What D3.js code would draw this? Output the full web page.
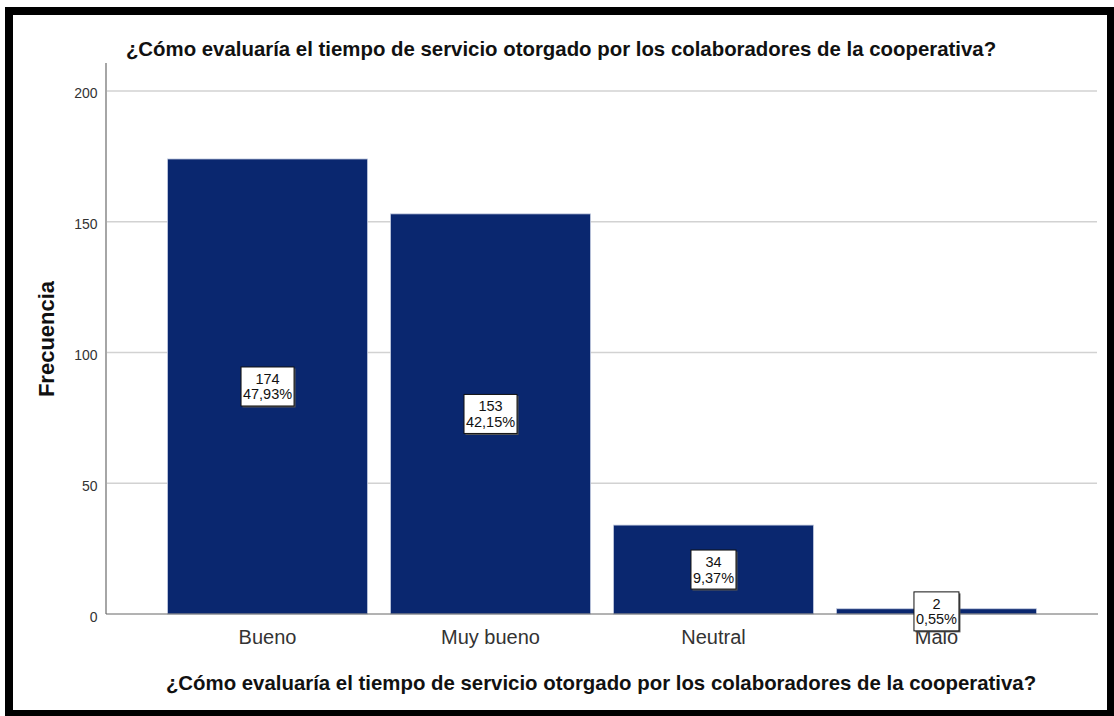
<!DOCTYPE html>
<html>
<head>
<meta charset="utf-8">
<script src="https://cdn.jsdelivr.net/npm/d3@7"></script>
<style>
  body { margin: 0; background: #fff; }
  text { font-family: "Liberation Sans", Arial, sans-serif; }
</style>
</head>
<body>
<script>
// values
var categories = ['Bueno', 'Muy bueno', 'Neutral', 'Malo'];
var counts = [174, 153, 34, 2];
var percents = ['47,93%', '42,15%', '9,37%', '0,55%'];
var yTicks = [0, 50, 100, 150, 200];
var title = '¿Cómo evaluaría el tiempo de servicio otorgado por los colaboradores de la cooperativa?';
var yTitle = 'Frecuencia';

var W = 1114, H = 716;
// plot area (window.top is read-only, so no plain "top")
var plotLeft = 106, plotRight = 1098, plotTop = 63, plotBottom = 614;

var svg = d3.select('body').append('svg')
    .attr('width', W)
    .attr('height', H);

var x = d3.scaleBand()
    .domain(categories)
    .range([plotLeft, plotRight])
    .paddingInner(0.103)
    .paddingOuter(0.276);

var y = d3.scaleLinear()
    .domain([0, 210.7])
    .range([plotBottom, plotTop]);

// grid lines
svg.append('g')
  .selectAll('line')
  .data(yTicks.filter(d => d > 0))
  .enter().append('line')
    .attr('x1', plotLeft).attr('x2', plotRight - 1)
    .attr('y1', d => y(d)).attr('y2', d => y(d))
    .style('stroke', '#d2d2d2')
    .style('stroke-width', 1.5);

// y axis
var yAxis = d3.axisLeft(y).tickValues(yTicks).tickSize(0).tickPadding(8.5);
var gy = svg.append('g')
  .attr('transform', 'translate(' + plotLeft + ',0)')
  .call(yAxis);
gy.select('.domain').remove();
gy.selectAll('text')
  .attr('dy', '0.5em')
  .style('font-size', '14px')
  .style('fill', '#333');

svg.append('line')
  .attr('x1', plotLeft).attr('x2', plotLeft)
  .attr('y1', plotTop).attr('y2', plotBottom)
  .style('stroke', '#a6a6a6')
  .style('stroke-width', 2);

// bars
svg.append('g')
  .selectAll('rect')
  .data(counts)
  .enter().append('rect')
    .attr('x', (d, i) => x(categories[i]))
    .attr('y', d => y(d))
    .attr('width', x.bandwidth())
    .attr('height', d => plotBottom - y(d))
    .style('fill', '#0a276f')
    .style('stroke', '#c3cbe0')
    .style('stroke-width', 0.8);

// baseline
svg.append('line')
  .attr('x1', plotLeft).attr('x2', plotRight)
  .attr('y1', plotBottom).attr('y2', plotBottom)
  .style('stroke', '#666')
  .style('stroke-width', 1);

// x axis labels
var xAxis = d3.axisBottom(x).tickSize(0).tickPadding(16);
var gx = svg.append('g')
  .attr('transform', 'translate(0,' + plotBottom + ')')
  .call(xAxis);
gx.select('.domain').remove();
gx.selectAll('text')
  .style('font-size', '20px')
  .style('fill', '#333');

// value labels
var lab = svg.append('g')
  .selectAll('g')
  .data(counts)
  .enter().append('g')
    .attr('transform', (d, i) => 'translate(' + (x(categories[i]) + x.bandwidth() / 2) + ',' + ((y(d) + plotBottom) / 2) + ')');

lab.each(function(d, i) {
  var g = d3.select(this);
  var wBox = percents[i].length > 5 ? 53 : 45;
  var hBox = 39;
  g.append('rect')
    .attr('x', -wBox / 2 + 1.5).attr('y', -hBox / 2 + 1.5)
    .attr('width', wBox).attr('height', hBox)
    .style('fill', '#555');
  g.append('rect')
    .attr('x', -wBox / 2).attr('y', -hBox / 2)
    .attr('width', wBox).attr('height', hBox)
    .style('fill', '#fff')
    .style('stroke', '#111')
    .style('stroke-width', 1);
  g.append('text')
    .attr('text-anchor', 'middle')
    .attr('y', -2.5)
    .style('font-size', '14.5px')
    .style('fill', '#111')
    .text(counts[i]);
  g.append('text')
    .attr('text-anchor', 'middle')
    .attr('y', 13)
    .style('font-size', '14.5px')
    .style('fill', '#111')
    .text(percents[i]);
});

// titles
svg.append('text')
  .attr('x', 561).attr('y', 56)
  .attr('text-anchor', 'middle')
  .style('font-size', '20.4px')
  .style('font-weight', 'bold')
  .style('fill', '#111')
  .text(title);

svg.append('text')
  .attr('x', 601).attr('y', 690)
  .attr('text-anchor', 'middle')
  .style('font-size', '20.4px')
  .style('font-weight', 'bold')
  .style('fill', '#111')
  .text(title);

svg.append('text')
  .attr('transform', 'translate(54,339) rotate(-90)')
  .attr('text-anchor', 'middle')
  .style('font-size', '22px')
  .style('font-weight', 'bold')
  .style('fill', '#111')
  .text(yTitle);

// outer frame
svg.append('rect')
  .attr('x', 9).attr('y', 11)
  .attr('width', 1102).attr('height', 703)
  .style('fill', 'none')
  .style('stroke', '#000')
  .style('stroke-width', 8);
</script>
</body>
</html>
